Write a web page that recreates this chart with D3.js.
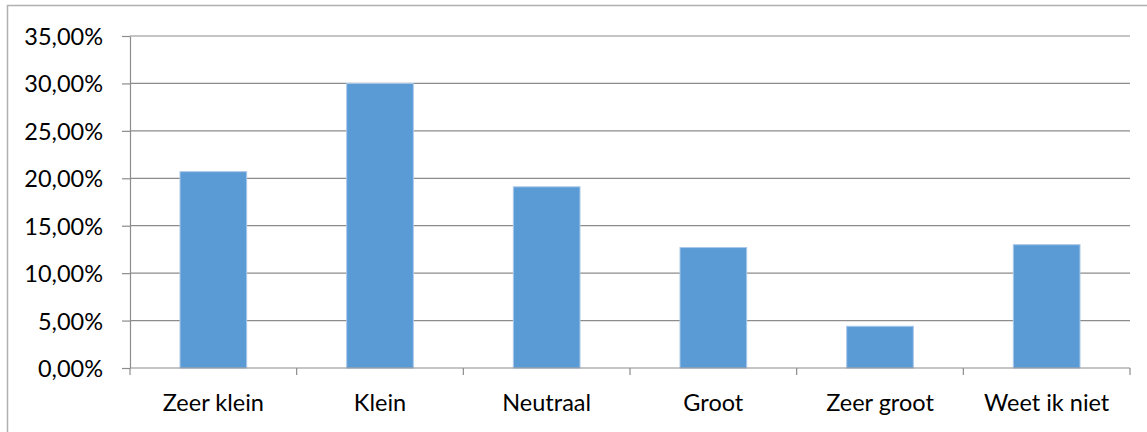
<!DOCTYPE html>
<html>
<head>
<meta charset="utf-8">
<script src="https://cdn.jsdelivr.net/npm/d3@7"></script>
<style>
  body { margin: 0; background: #fff; }
  svg { display: block; }
  text { font-family: Lato, "Open Sans", sans-serif; fill: #000; }
</style>
</head>
<body>
<svg id="chart" width="1147" height="432"></svg>
<script>
const categories = ["Zeer klein", "Klein", "Neutraal", "Groot", "Zeer groot", "Weet ik niet"];
const values = [20.7, 30.0, 19.1, 12.7, 4.4, 13.0];
const yTicks = [0, 5, 10, 15, 20, 25, 30, 35];

const svg = d3.select("#chart");
const plotLeft = 130, plotRight = 1130, plotTop = 36, plotBottom = 368;

// chart border
svg.append("rect")
  .attr("x", 7.5).attr("y", 5.5)
  .attr("width", 1160).attr("height", 440)
  .attr("fill", "none").attr("stroke", "#b0b0b0").attr("stroke-width", 1.5);

const x = d3.scaleBand()
  .domain(categories)
  .range([plotLeft, plotRight])
  .paddingInner(0.6)
  .paddingOuter(0.3);

const y = d3.scaleLinear().domain([0, 35]).range([plotBottom, plotTop]);

const fmt = v => d3.format(".2f")(v).replace(".", ",") + "%";

// gridlines + y labels
const yAxis = svg.append("g")
  .attr("transform", `translate(${plotLeft},0)`)
  .call(d3.axisLeft(y).tickValues(yTicks).tickSize(8).tickSizeOuter(0).tickFormat(fmt).tickPadding(19));
yAxis.select(".domain").attr("stroke", "#8c8c8c").attr("stroke-width", 1.2);
yAxis.selectAll(".tick line").attr("stroke", "#8c8c8c").attr("stroke-width", 1.2);
yAxis.selectAll(".tick text").style("font-size", "23.5px").attr("dy", "0.36em");

svg.append("g")
  .selectAll("line")
  .data(yTicks.filter(d => d > 0))
  .join("line")
  .attr("x1", plotLeft).attr("x2", plotRight)
  .attr("y1", d => y(d)).attr("y2", d => y(d))
  .attr("stroke", "#8c8c8c").attr("stroke-width", 1.2);

// bars
svg.append("g")
  .selectAll("rect")
  .data(values)
  .join("rect")
  .attr("x", (d, i) => x(categories[i]))
  .attr("width", x.bandwidth())
  .attr("y", d => y(d))
  .attr("height", d => y(0) - y(d))
  .attr("fill", "#5b9bd5")
  .attr("stroke", "#a9c8ea")
  .attr("stroke-width", 1);

// x axis with ticks between categories
const step = x.step();
const bounds = d3.range(categories.length + 1).map(i => plotLeft + i * step);
svg.append("line")
  .attr("x1", plotLeft).attr("x2", plotRight)
  .attr("y1", plotBottom).attr("y2", plotBottom)
  .attr("stroke", "#8c8c8c").attr("stroke-width", 1.2);
svg.append("g")
  .selectAll("line")
  .data(bounds)
  .join("line")
  .attr("x1", d => d).attr("x2", d => d)
  .attr("y1", plotBottom).attr("y2", plotBottom + 7)
  .attr("stroke", "#8c8c8c").attr("stroke-width", 1.2);

svg.append("g")
  .selectAll("text")
  .data(categories)
  .join("text")
  .attr("x", d => x(d) + x.bandwidth() / 2)
  .attr("y", 411)
  .attr("text-anchor", "middle")
  .style("font-size", "23.5px")
  .text(d => d);
</script>
</body>
</html>
